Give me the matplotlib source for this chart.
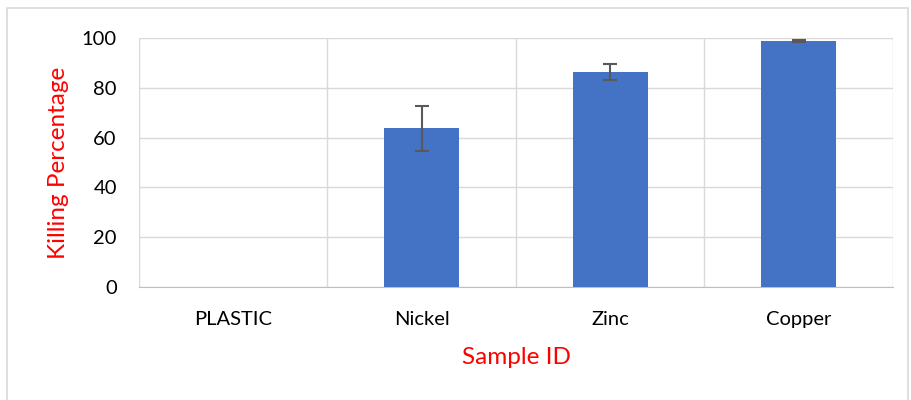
import numpy as np
import matplotlib.pyplot as plt
from matplotlib.patches import Rectangle

# Data
samples = ['PLASTIC', 'Nickel', 'Zinc', 'Copper']
killing_pct = [0.0, 63.7, 86.2, 98.9]
errors = [0.0, 9.0, 3.2, 0.4]

plt.rcParams['font.family'] = ['Lato', 'DejaVu Sans']

fig = plt.figure(figsize=(9.12, 4), dpi=100)
ax = fig.add_axes([139 / 912, 113 / 400, 754 / 912, 249 / 400])

# outer chart border like the Excel chart area
fig.patches.append(Rectangle((7 / 912, -0.01), 901 / 912, 392 / 400 + 0.01,
                             transform=fig.transFigure, fill=False,
                             edgecolor='#d9d9d9', linewidth=1.2))

x = np.arange(len(samples))
ax.bar(x, killing_pct, width=0.4, color='#4472C4', zorder=3)
ax.errorbar(x[1:], killing_pct[1:], yerr=errors[1:], fmt='none',
            ecolor='#595959', elinewidth=1.5, capsize=5, capthick=1.5, zorder=4)

ax.set_xlim(-0.5, len(samples) - 0.5)
ax.set_ylim(0, 100)
ax.set_yticks(np.arange(0, 101, 20))
ax.set_xticks(x)
ax.set_xticklabels(samples)

# horizontal grid plus vertical lines between categories
ax.grid(axis='y', color='#d9d9d9', linewidth=1, zorder=0)
for b in np.arange(-0.5, len(samples), 1.0):
    ax.axvline(b, color='#d9d9d9', linewidth=1, zorder=0)

for side in ['top', 'right', 'left']:
    ax.spines[side].set_visible(False)
ax.spines['bottom'].set_color('#bfbfbf')
ax.tick_params(length=0, labelsize=14.5, colors='black')
ax.tick_params(axis='x', pad=17)
ax.tick_params(axis='y', pad=16)

ax.set_xlabel('Sample ID', color='red', fontsize=17.5, labelpad=14)
ax.set_ylabel('Killing Percentage', color='red', fontsize=17.5, labelpad=9)

fig.savefig('out.png', dpi=100)
